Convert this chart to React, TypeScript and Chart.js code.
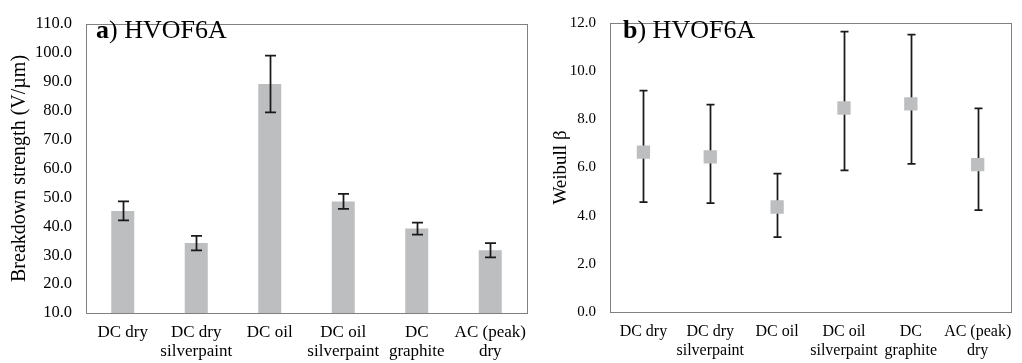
import React, { useEffect, useRef } from "react";
import { Chart, registerables } from "chart.js";

Chart.register(...registerables);

const FONT = "'Liberation Serif', 'Times New Roman', serif";

// ---- data ----
const categories: string[][] = [
  ["DC dry"],
  ["DC dry", "silverpaint"],
  ["DC oil"],
  ["DC oil", "silverpaint"],
  ["DC", "graphite"],
  ["AC (peak)", "dry"],
];
const strength = [45.3, 34.2, 89.2, 48.6, 39.2, 31.7];
const strengthErr = [3.3, 2.5, 9.8, 2.6, 2.1, 2.5];
const beta = [6.64, 6.44, 4.36, 8.47, 8.64, 6.12];
const betaLow = [4.56, 4.52, 3.11, 5.88, 6.15, 4.23];
const betaHigh = [9.19, 8.61, 5.75, 11.64, 11.52, 8.45];
const titleA = ["a", ") HVOF6A"];
const titleB = ["b", ") HVOF6A"];
const yTitleA = "Breakdown strength (V/\u00b5m)";
const yTitleB = "Weibull \u03b2";

const GRAY = "#bdbec0";
const BORDER = "#808080";
const ERR = "#1a1a1a";

function makeErrorPlugin(id: string, low: number[], high: number[], capHalf: number, after: boolean) {
  const draw = (chart: any) => {
    const meta = chart.getDatasetMeta(0);
    const ys = chart.scales.y;
    const ctx = chart.ctx;
    ctx.save();
    ctx.strokeStyle = ERR;
    ctx.lineWidth = 1.75;
    meta.data.forEach((el: any, i: number) => {
      const x = Math.round(el.x) + 0.5;
      const y1 = ys.getPixelForValue(low[i]);
      const y2 = ys.getPixelForValue(high[i]);
      ctx.beginPath();
      ctx.moveTo(x, y1);
      ctx.lineTo(x, y2);
      ctx.moveTo(x - capHalf, y1);
      ctx.lineTo(x + capHalf, y1);
      ctx.moveTo(x - capHalf, y2);
      ctx.lineTo(x + capHalf, y2);
      ctx.stroke();
    });
    ctx.restore();
  };
  return after
    ? { id, afterDatasetsDraw: draw }
    : { id, beforeDatasetsDraw: draw };
}

function makeFramePlugin(id: string, title: string[], tx: number, ty: number) {
  return {
    id,
    afterDraw(chart: any) {
      const { ctx, chartArea } = chart;
      ctx.save();
      ctx.strokeStyle = BORDER;
      ctx.lineWidth = 1;
      ctx.strokeRect(
        Math.round(chartArea.left) + 0.5,
        Math.round(chartArea.top) + 0.5,
        Math.round(chartArea.right - chartArea.left),
        Math.round(chartArea.bottom - chartArea.top)
      );
      ctx.fillStyle = "#000";
      ctx.textBaseline = "middle";
      ctx.textAlign = "left";
      ctx.font = `bold 26px ${FONT}`;
      ctx.fillText(title[0], tx, ty);
      const w = ctx.measureText(title[0]).width;
      ctx.font = `26px ${FONT}`;
      ctx.fillText(title[1], tx + w, ty);
      ctx.restore();
    },
  };
}

function LeftChart() {
  const ref = useRef<HTMLCanvasElement>(null);
  useEffect(() => {
    const low = strength.map((v, i) => v - strengthErr[i]);
    const high = strength.map((v, i) => v + strengthErr[i]);
    const chart = new Chart(ref.current!, {
      type: "bar",
      data: {
        labels: categories,
        datasets: [
          {
            data: strength,
            backgroundColor: GRAY,
            borderWidth: 0,
            barPercentage: 0.313,
            categoryPercentage: 1,
          },
        ],
      },
      options: {
        responsive: false,
        animation: false,
        layout: { padding: { left: 0, right: 13, top: 11, bottom: 0 } },
        plugins: { legend: { display: false }, tooltip: { enabled: false } },
        scales: {
          x: {
            grid: { display: false, drawTicks: false },
            border: { display: false },
            ticks: {
              color: "#000",
              padding: 10,
              maxRotation: 0,
              autoSkip: false,
              font: { family: FONT, size: 17, lineHeight: 1.12 },
            },
            afterFit: (s: any) => {
              s.height = 50;
            },
          },
          y: {
            min: 10,
            max: 110,
            grid: { display: false, drawTicks: false },
            border: { display: false },
            ticks: {
              stepSize: 10,
              color: "#000",
              padding: 14,
              font: { family: FONT, size: 16.5 },
              callback: (v: any) => Number(v).toFixed(1),
            },
            title: {
              display: true,
              text: yTitleA,
              color: "#000",
              font: { family: FONT, size: 20 },
              padding: { top: 8, bottom: 0 },
            },
            afterFit: (s: any) => {
              s.width = 86;
            },
          },
        },
      },
      plugins: [
        makeErrorPlugin("errA", low, high, 5.5, true),
        makeFramePlugin("frameA", titleA, 96, 31),
      ],
    });
    return () => chart.destroy();
  }, []);
  return <canvas ref={ref} width={540} height={363} style={{ display: "block" }} />;
}

function RightChart() {
  const ref = useRef<HTMLCanvasElement>(null);
  useEffect(() => {
    const chart = new Chart(ref.current!, {
      type: "line",
      data: {
        labels: categories,
        datasets: [
          {
            data: beta,
            showLine: false,
            pointStyle: "rect",
            pointRadius: 9.4,
            pointBackgroundColor: GRAY,
            pointBorderWidth: 0,
            borderColor: GRAY,
          },
        ],
      },
      options: {
        responsive: false,
        animation: false,
        layout: { padding: { left: 0, right: 5, top: 13, bottom: 0 } },
        plugins: { legend: { display: false }, tooltip: { enabled: false } },
        scales: {
          x: {
            offset: true,
            grid: { display: false, drawTicks: false },
            border: { display: false },
            ticks: {
              color: "#000",
              padding: 10,
              maxRotation: 0,
              autoSkip: false,
              font: { family: FONT, size: 16, lineHeight: 1.18 },
            },
            afterFit: (s: any) => {
              s.height = 51;
            },
          },
          y: {
            min: 0,
            max: 12,
            grid: { display: false, drawTicks: false },
            border: { display: false },
            ticks: {
              stepSize: 2,
              color: "#000",
              padding: 14,
              font: { family: FONT, size: 15 },
              callback: (v: any) => Number(v).toFixed(1),
            },
            title: {
              display: true,
              text: yTitleB,
              color: "#000",
              font: { family: FONT, size: 19 },
              padding: { top: 10, bottom: 0 },
            },
            afterFit: (s: any) => {
              s.width = 70;
            },
          },
        },
      },
      plugins: [
        makeErrorPlugin("errB", betaLow, betaHigh, 4, false),
        makeFramePlugin("frameB", titleB, 83, 31),
      ],
    });
    return () => chart.destroy();
  }, []);
  return <canvas ref={ref} width={482} height={363} style={{ display: "block" }} />;
}

export default function App() {
  return (
    <div
      style={{
        position: "fixed",
        left: 0,
        top: 0,
        width: 1022,
        height: 363,
        background: "#fff",
        overflow: "hidden",
      }}
    >
      <div style={{ position: "absolute", left: 0, top: 0 }}>
        <LeftChart />
      </div>
      <div style={{ position: "absolute", left: 540, top: 0 }}>
        <RightChart />
      </div>
    </div>
  );
}
